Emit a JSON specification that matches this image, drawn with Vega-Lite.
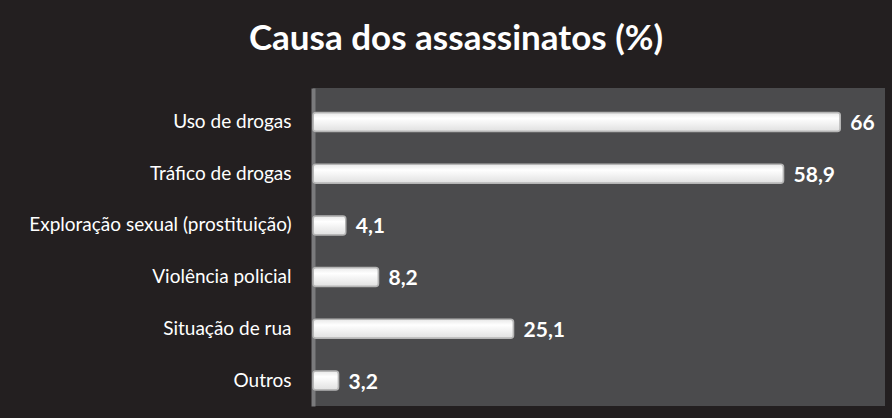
{
  "$schema": "https://vega.github.io/schema/vega-lite/v6.json",
  "autosize": {"type": "none"},
  "width": 572,
  "height": 318,
  "padding": {"left": 313, "top": 88, "right": 7, "bottom": 12},
  "background": "#231f20",
  "config": {
    "view": {"fill": "#4b4b4d", "stroke": null},
    "locale": {"number": {"decimal": ",", "thousands": ".", "grouping": [3], "currency": ["R$", ""]}}
  },
  "title": {
    "text": "Causa dos assassinatos (%)",
    "font": "Lato",
    "fontSize": 35,
    "fontWeight": "bold",
    "color": "#ffffff",
    "anchor": "middle",
    "dx": -143,
    "offset": 31
  },
  "data": {
    "values": [
      {"causa": "Uso de drogas", "pct": 66},
      {"causa": "Tráfico de drogas", "pct": 58.9},
      {"causa": "Exploração sexual (prostituição)", "pct": 4.1},
      {"causa": "Violência policial", "pct": 8.2},
      {"causa": "Situação de rua", "pct": 25.1},
      {"causa": "Outros", "pct": 3.2}
    ]
  },
  "encoding": {
    "y": {
      "field": "causa",
      "type": "nominal",
      "sort": null,
      "scale": {"paddingInner": 0.6, "paddingOuter": 0.375, "align": 0.61},
      "axis": {
        "title": null,
        "ticks": false,
        "labelPadding": 22,
        "labelFont": "Lato",
        "labelFontSize": 19,
        "labelColor": "#ffffff",
        "domainColor": "#7a7a7c",
        "domainWidth": 4,
        "labelLimit": 400
      }
    },
    "x": {
      "field": "pct",
      "type": "quantitative",
      "scale": {"domain": [0, 71.6]},
      "axis": null
    }
  },
  "layer": [
    {
      "mark": {
        "type": "bar",
        "size": 19,
        "cornerRadius": 3,
        "stroke": "#b5b5b5",
        "strokeWidth": 1.5,
        "fill": {
          "gradient": "linear",
          "x1": 0, "y1": 0, "x2": 0, "y2": 1,
          "stops": [
            {"offset": 0, "color": "#e8e8e8"},
            {"offset": 0.3, "color": "#ffffff"},
            {"offset": 1, "color": "#e0e0e0"}
          ]
        }
      }
    },
    {
      "mark": {
        "type": "text",
        "align": "left",
        "baseline": "middle",
        "dx": 10,
        "dy": 2,
        "font": "Lato",
        "fontSize": 21,
        "fontWeight": "bold",
        "color": "#ffffff"
      },
      "encoding": {
        "text": {"field": "pct", "type": "quantitative", "format": ".1~f"}
      }
    }
  ]
}
